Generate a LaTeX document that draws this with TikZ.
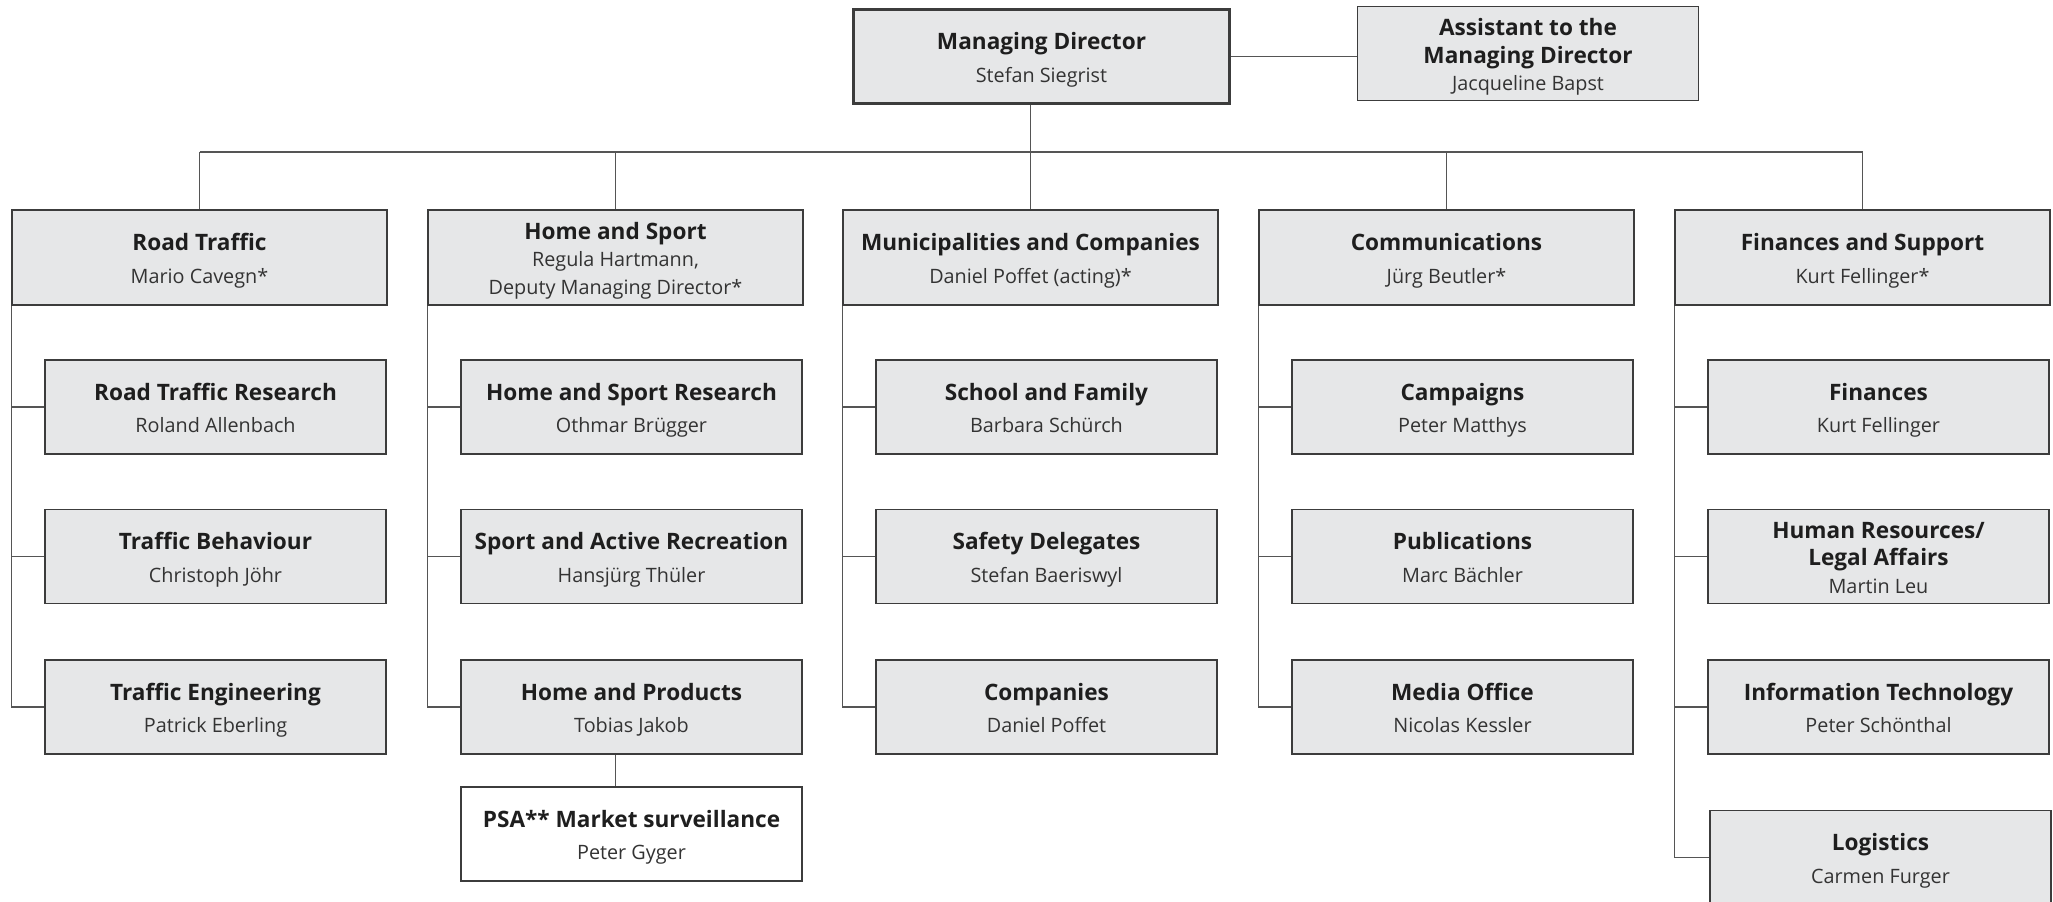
\documentclass[tikz,border=0pt]{standalone}
\usepackage{fontspec}
\setmainfont{Open Sans}
\definecolor{boxfill}{HTML}{E6E7E8}
\definecolor{edge}{HTML}{3C3C3C}
\definecolor{linec}{HTML}{555555}
\definecolor{titlec}{HTML}{1E1E1E}
\definecolor{namec}{HTML}{333333}
\newcommand{\ttl}[1]{{\fontsize{11.3}{16.5}\selectfont\bfseries\color{titlec}\rule{0pt}{11.8pt}\vphantom{hg}#1}}
\newcommand{\ttlb}[1]{{\fontsize{11.3}{16.5}\selectfont\bfseries\color{titlec}\vphantom{hg}#1}}
\newcommand{\nm}[1]{\vphantom{hg}#1}
\tikzset{
 orgbox/.style={draw=edge, fill=boxfill, line width=0.65pt, inner sep=0pt, align=center, text=namec, font=\fontsize{9.9}{16.3}\selectfont},
 deptbox/.style={orgbox, minimum width=187.5pt, minimum height=47.5pt},
 subbox/.style={orgbox, minimum width=170.5pt, minimum height=47pt},
 tight/.style={font=\fontsize{9.9}{13.8}\selectfont},
 link/.style={draw=linec, line width=0.6pt},
}
\begin{document}
\begin{tikzpicture}[x=0.5pt,y=-0.5pt]
\useasboundingbox (0,0) rectangle (2053,901);
% top
\node[orgbox, line width=1.6pt, minimum width=187.8pt, minimum height=47.1pt] (md) at (1041.5,56.3) {\ttl{Managing Director}\\\nm{Stefan Siegrist}};
\node[orgbox, tight, minimum width=170.2pt, minimum height=47.1pt] (asst) at (1528,53.7) {\ttl{Assistant to the}\\\ttlb{Managing Director}\\\nm{Jacqueline Bapst}};
\coordinate (bus) at (0,152);
% departments
\node[deptbox] (d1) at (199.5,257.5) {\ttl{Road Traffic}\\\nm{Mario Cavegn*}};
\node[deptbox, tight] (d2) at (615.5,257.5) {\ttl{Home and Sport}\\\nm{Regula Hartmann,}\\\nm{Deputy Managing Director*}};
\node[deptbox] (d3) at (1030.5,257.5) {\ttl{Municipalities and Companies}\\\nm{Daniel Poffet (acting)*}};
\node[deptbox] (d4) at (1446.5,257.5) {\ttl{Communications}\\\nm{Jürg Beutler*}};
\node[deptbox] (d5) at (1862.5,257.5) {\ttl{Finances and Support}\\\nm{Kurt Fellinger*}};
% column 1
\node[subbox] (s11) at (215.5,407) {\ttl{Road Traffic Research}\\\nm{Roland Allenbach}};
\node[subbox] (s12) at (215.5,556.5) {\ttl{Traffic Behaviour}\\\nm{Christoph Jöhr}};
\node[subbox] (s13) at (215.5,707) {\ttl{Traffic Engineering}\\\nm{Patrick Eberling}};
% column 2
\node[subbox] (s21) at (631.5,407) {\ttl{Home and Sport Research}\\\nm{Othmar Brügger}};
\node[subbox] (s22) at (631.5,556.5) {\ttl{Sport and Active Recreation}\\\nm{Hansjürg Thüler}};
\node[subbox] (s23) at (631.5,707) {\ttl{Home and Products}\\\nm{Tobias Jakob}};
\node[subbox, fill=white] (psa) at (631.5,834) {\ttl{PSA** Market surveillance}\\\nm{Peter Gyger}};
% column 3
\node[subbox] (s31) at (1046.5,407) {\ttl{School and Family}\\\nm{Barbara Schürch}};
\node[subbox] (s32) at (1046.5,556.5) {\ttl{Safety Delegates}\\\nm{Stefan Baeriswyl}};
\node[subbox] (s33) at (1046.5,707) {\ttl{Companies}\\\nm{Daniel Poffet}};
% column 4
\node[subbox] (s41) at (1462.5,407) {\ttl{Campaigns}\\\nm{Peter Matthys}};
\node[subbox] (s42) at (1462.5,556.5) {\ttl{Publications}\\\nm{Marc Bächler}};
\node[subbox] (s43) at (1462.5,707) {\ttl{Media Office}\\\nm{Nicolas Kessler}};
% column 5
\node[subbox] (s51) at (1878.5,407) {\ttl{Finances}\\\nm{Kurt Fellinger}};
\node[subbox, tight] (s52) at (1878.5,556.5) {\ttl{Human Resources/}\\\ttlb{Legal Affairs}\\\nm{Martin Leu}};
\node[subbox] (s53) at (1878.5,707) {\ttl{Information Technology}\\\nm{Peter Schönthal}};
\node[subbox] (s54) at (1880.5,857.5) {\ttl{Logistics}\\\nm{Carmen Furger}};
% connectors
\draw[link] (md.east) -- (md.east -| asst.west);
\draw[link] (md.south -| d3.north) -- (d3.north);
\draw[link] (d1.north |- bus) -- (d5.north |- bus);
\foreach \d in {d1,d2,d4,d5} \draw[link] (\d.north |- bus) -- (\d.north);
\foreach \c in {1,2,3,4} {
  \draw[link] (d\c.south west) |- (s\c3.west);
  \draw[link] (d\c.south west |- s\c1.west) -- (s\c1.west);
  \draw[link] (d\c.south west |- s\c2.west) -- (s\c2.west);
}
\draw[link] (d5.south west) |- (s54.west);
\foreach \s in {s51,s52,s53} \draw[link] (d5.south west |- \s.west) -- (\s.west);
\draw[link] (s23.south -| d2.north) -- (psa.north -| d2.north);
\end{tikzpicture}
\end{document}
